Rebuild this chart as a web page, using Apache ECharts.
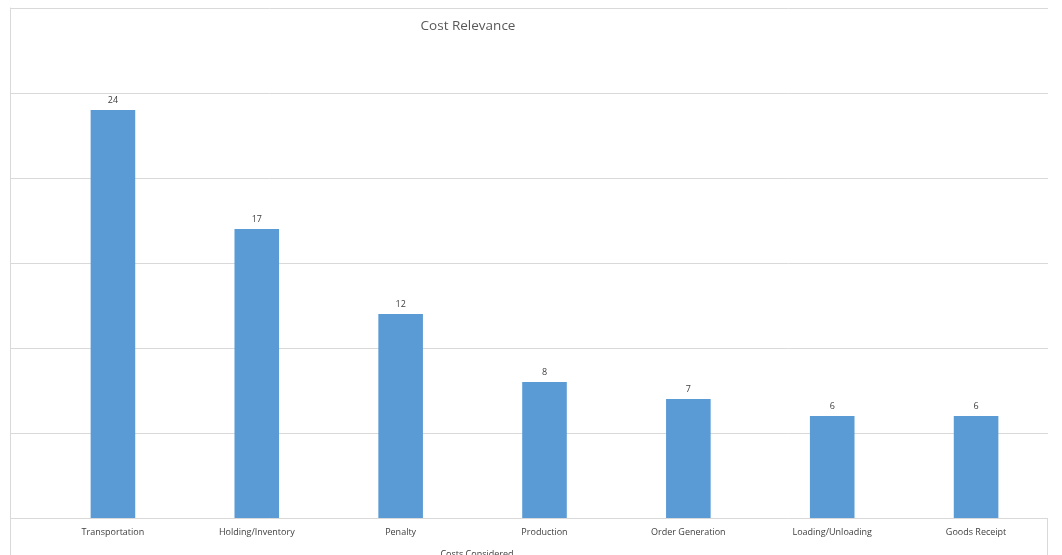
<!DOCTYPE html>
<html lang="en">
<head>
    <meta charset="UTF-8">
    <title>Cost Relevance</title>
    <script src="https://cdn.jsdelivr.net/npm/echarts@6/dist/echarts.min.js"></script>
    <style>
        body, html {
            margin: 0;
            padding: 0;
            width: 100%;
            height: 100%;
            overflow: hidden;
            background-color: #fff;
        }
        #container {
            width: 1062px;
            height: 555px;
        }
    </style>
</head>
<body>
    <div id="container"></div>
    <script>
        // data
        var categories = ['Transportation', 'Holding/Inventory', 'Penalty', 'Production',
            'Order Generation', 'Loading/Unloading', 'Goods Receipt'];
        var counts = [24, 17, 12, 8, 7, 6, 6];
        var axisMin = 0, axisMax = 30, axisStep = 5;

        var font = '"Open Sans", "Liberation Sans", sans-serif';
        var gridColor = '#d9d9d9';

        var option = {
            backgroundColor: '#fff',
            animation: false,
            title: [
                {
                    text: 'Cost Relevance',
                    left: 463, top: 14, textAlign: 'center',
                    textStyle: { fontFamily: font, fontSize: 13.5, fontWeight: 'normal', color: '#595959' }
                },
                {
                    text: 'Costs Considered',
                    left: 472, top: 545, textAlign: 'center',
                    textStyle: { fontFamily: font, fontSize: 9, fontWeight: 'normal', color: '#404040' }
                }
            ],
            grid: [
                // background grid: full-width gridlines and left axis line
                { left: 10, right: 14, top: 8, bottom: 37 },
                // plot grid for the bars
                { left: 41, right: 14, top: 8, bottom: 37 }
            ],
            xAxis: [
                { type: 'category', gridIndex: 0, data: [''], show: false },
                {
                    type: 'category', gridIndex: 1, data: categories,
                    axisLine: { show: false },
                    axisTick: { show: false },
                    axisLabel: { fontFamily: font, fontSize: 9, color: '#404040', margin: 10 }
                }
            ],
            yAxis: [
                {
                    type: 'value', gridIndex: 0, min: axisMin, max: axisMax, interval: axisStep,
                    axisLine: { show: true, lineStyle: { color: gridColor } },
                    axisTick: { show: false },
                    axisLabel: { show: false },
                    splitLine: { lineStyle: { color: gridColor, width: 1 } }
                },
                {
                    type: 'value', gridIndex: 1, min: axisMin, max: axisMax, interval: axisStep,
                    show: false
                }
            ],
            graphic: [
                { type: 'line', shape: { x1: 10.5, y1: 518, x2: 10.5, y2: 555 }, style: { stroke: gridColor } },
                { type: 'line', shape: { x1: 1047.5, y1: 518, x2: 1047.5, y2: 555 }, style: { stroke: gridColor } }
            ],
            series: [
                {
                    type: 'bar',
                    xAxisIndex: 1, yAxisIndex: 1,
                    data: counts,
                    barWidth: '31%',
                    itemStyle: { color: '#5b9bd5' },
                    label: {
                        show: true, position: 'top', distance: 5,
                        fontFamily: font, fontSize: 9, color: '#404040'
                    }
                }
            ]
        };

        var chart = echarts.init(document.getElementById('container'));
        chart.setOption(option);
    </script>
</body>
</html>
